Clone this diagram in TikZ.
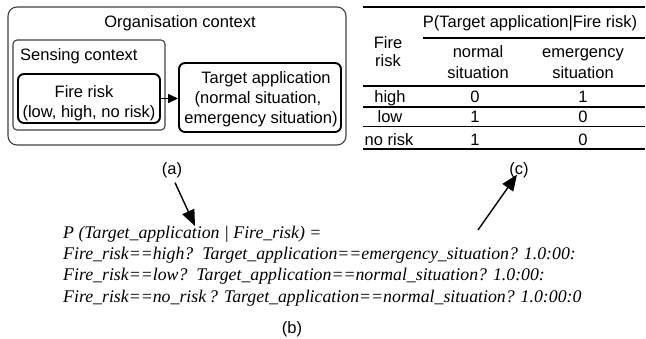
\documentclass[tikz,border=0pt]{standalone}
\usepackage{fontspec}
\setmainfont{Liberation Sans}
\newfontfamily\formulafont{Liberation Serif}
\usetikzlibrary{arrows.meta}
\tikzset{
  lbl/.style={inner sep=0pt, anchor=base, font=\fontsize{16.5}{19}\selectfont},
  frm/.style={inner sep=0pt, anchor=base west, font=\fontsize{17.8}{20}\selectfont\formulafont\itshape},
  thinbox/.style={draw=black!75, line width=1.1pt, inner sep=0pt},
  thickbox/.style={draw=black, line width=1.9pt, inner sep=0pt, rounded corners=6pt},
  rule/.style={line width=1.7pt},
  midrule/.style={line width=1.3pt},
  bigarrow/.style={line width=1.4pt, -{Triangle[length=16pt,width=13pt]}},
  smallarrow/.style={line width=1.4pt, -{Triangle[length=10pt,width=9pt]}}
}
\begin{document}
\begin{tikzpicture}[x=1pt,y=-1pt]
\useasboundingbox (0,0) rectangle (646,338);

% (a) context model
\node[thinbox, rounded corners=9pt, minimum width=338pt, minimum height=138pt] (org) at (177,76) {};
\node[lbl] (orgtxt) at (180,27) {Organisation context};
\node[thinbox, rounded corners=4pt, minimum width=152pt, minimum height=90pt] (sens) at (89,85) {};
\node[lbl, anchor=base west] (senstxt) at (20,60) {Sensing context};
\node[thickbox, minimum width=142pt, minimum height=49pt] (fire) at (89,98.5) {};
\node[lbl] (firetxt) at (84,97) {Fire risk};
\node[lbl] (firevals) at (89,117) {(low, high, no risk)};
\node[thickbox, minimum width=162pt, minimum height=69pt] (target) at (260,97.5) {};
\node[lbl] (tgttxt) at (266,83) {Target application};
\node[lbl] (tgtval1) at (258,103) {(normal situation,};
\node[lbl] (tgtval2) at (261,123) {emergency situation)};
\draw[smallarrow] (fire.east) -- (fire.east -| target.west);
\node[lbl] (capa) at (172,174) {(a)};

% (c) conditional probability table
\coordinate (tl) at (363,7);
\coordinate (tr) at (645,7);
\draw[rule] (tl) -- (tr);
\node[lbl] (phead) at (530,27) {P(Target application|Fire risk)};
\draw[midrule] (423,38) -- (645,38);
\node[lbl] (fr1) at (388,48) {Fire};
\node[lbl] (fr2) at (388,66) {risk};
\node[lbl] (n1) at (478,57) {normal};
\node[lbl] (n2) at (478,78) {situation};
\node[lbl] (e1) at (583,57) {emergency};
\node[lbl] (e2) at (583,78) {situation};
\draw[rule] (363,86) -- (645,86);
\node[lbl] (r1) at (390,102) {high};
\node[lbl] (r1a) at (475,102) {0};
\node[lbl] (r1b) at (583,102) {1};
\draw[rule] (363,107) -- (645,107);
\node[lbl] (r2) at (390,122) {low};
\node[lbl] (r2a) at (475,122) {1};
\node[lbl] (r2b) at (583,122) {0};
\draw[rule] (363,126.5) -- (645,126.5);
\node[lbl] (r3) at (389,145) {no risk};
\node[lbl] (r3a) at (475,145) {1};
\node[lbl] (r3b) at (583,145) {0};
\draw[rule] (363,149) -- (645,149);
\node[lbl] (capc) at (519,174) {(c)};

% (b) expression
\node[frm] (f1) at (63,238) {P (Target\_application | Fire\_risk) =};
\node[frm] (f2) at (63,259) {Fire\_risk==high?\ \ Target\_application==emergency\_situation? 1.0:00:};
\node[frm] (f3) at (63,280) {Fire\_risk==low?\ \ Target\_application==normal\_situation? 1.0:00:};
\node[frm] (f4) at (63,302) {Fire\_risk==no\_risk\,? Target\_application==normal\_situation? 1.0:00:0};
\node[lbl] (capb) at (292,333) {(b)};

% links between the parts
\coordinate (aend) at (195,226);
\draw[bigarrow] (capa.south) ++(3,5) -- (aend);
\coordinate (cstart) at (478,230);
\draw[bigarrow] (cstart) -- ([xshift=-2pt,yshift=3pt]capc.south);
\end{tikzpicture}
\end{document}
